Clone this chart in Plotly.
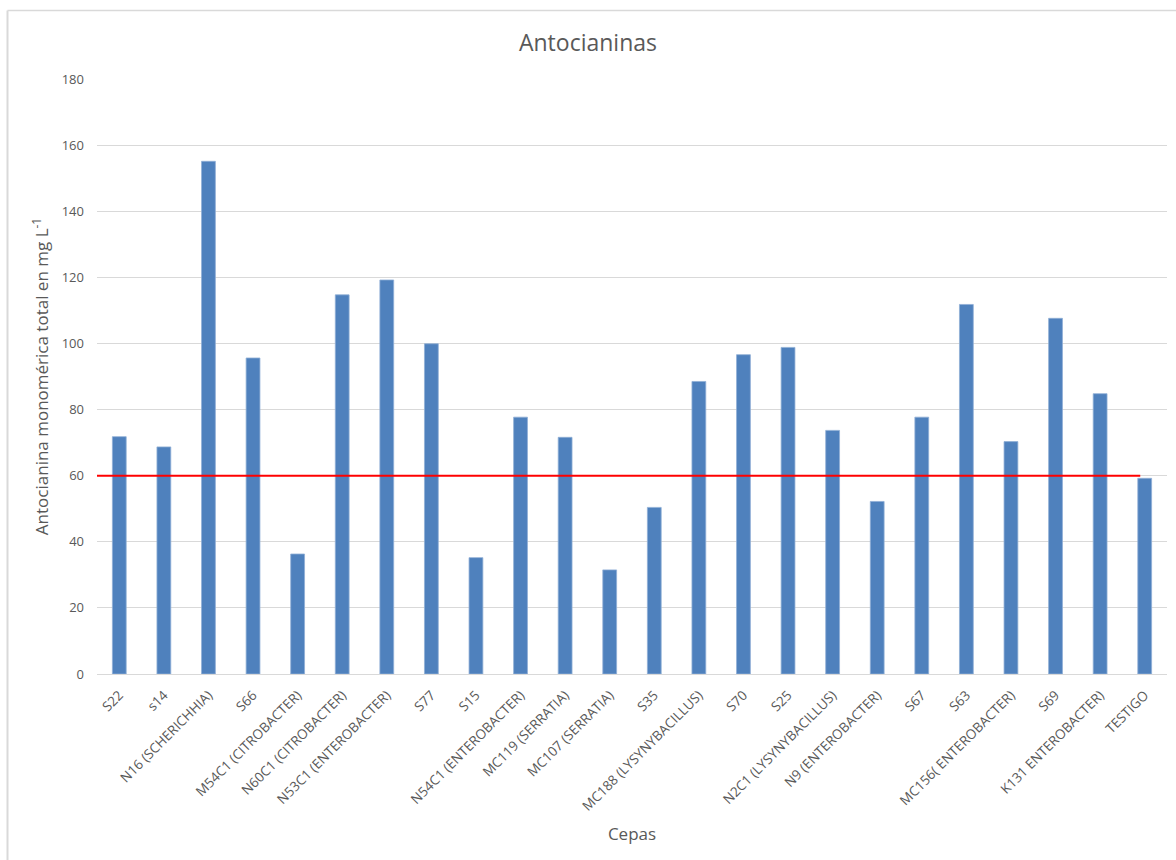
import plotly.graph_objects as go

# Strains (cepas) and total monomeric anthocyanin (mg/L)
cepas = [
    "S22", "s14", "N16 (SCHERICHHIA)", "S66", "M54C1 (CITROBACTER)",
    "N60C1 (CITROBACTER)", "N53C1 (ENTEROBACTER)", "S77", "S15",
    "N54C1 (ENTEROBACTER)", "MC119 (SERRATIA)", "MC107 (SERRATIA)", "S35",
    "MC188 (LYSYNYBACILLUS)", "S70", "S25", "N2C1 (LYSYNYBACILLUS)",
    "N9 (ENTEROBACTER)", "S67", "S63", "MC156( ENTEROBACTER)", "S69",
    "K131 ENTEROBACTER)", "TESTIGO",
]
antocianina = [
    71.8, 68.7, 155.1, 95.6, 36.3,
    114.7, 119.2, 99.9, 35.2,
    77.7, 71.6, 31.5, 50.4,
    88.5, 96.6, 98.8, 73.7,
    52.2, 77.7, 111.8, 70.3, 107.6,
    84.8, 59.2,
]
referencia = 60  # reference level drawn as a red line

y_ticks = [0, 20, 40, 60, 80, 100, 120, 140, 160, 180]

# plot-area geometry in pixels
W, H = 1176, 860
L, R, T, B = 97, 9, 79, 186
pw, ph = W - L - R, H - T - B

grey_text = "#595959"
font_family = "Open Sans, Calibri, Liberation Sans, sans-serif"

fig = go.Figure()
fig.add_trace(go.Bar(
    x=list(range(len(cepas))),
    y=antocianina,
    marker=dict(color="#4F81BD", line=dict(width=0.8, color="#8FAFD6")),
    width=0.31,
    hoverinfo="x+y",
))

# reference line at 60 mg/L
fig.add_shape(type="line", xref="x", yref="y",
              x0=-0.5, x1=len(cepas) - 1.1, y0=referencia, y1=referencia,
              line=dict(color="#FF0000", width=2))

# outer chart border (top and left edges)
fig.add_shape(type="line", xref="paper", yref="paper",
              x0=(7.5 - L) / pw, x1=(W + 5 - L) / pw,
              y0=(H - B - 10.5) / ph, y1=(H - B - 10.5) / ph,
              line=dict(color="#D9D9D9", width=1.5))
fig.add_shape(type="line", xref="paper", yref="paper",
              x0=(7.5 - L) / pw, x1=(7.5 - L) / pw,
              y0=(H - B - 10.5) / ph, y1=-(B + 5) / ph,
              line=dict(color="#D9D9D9", width=2))

fig.update_layout(
    width=W, height=H,
    margin=dict(l=L, r=R, t=T, b=B, pad=0),
    paper_bgcolor="white", plot_bgcolor="white",
    showlegend=False,
    font=dict(family=font_family, color=grey_text, size=13),
    title=dict(text="Antocianinas", x=0.5, xanchor="center",
               y=1 - 43 / H, yanchor="middle",
               font=dict(size=23, color=grey_text, family=font_family)),
    xaxis=dict(
        tickmode="array",
        tickvals=list(range(len(cepas))),
        ticktext=cepas,
        tickangle=-45,
        range=[-0.5, len(cepas) - 0.5],
        showgrid=False,
        showline=True, linecolor="#D9D9D9", linewidth=1,
        ticks="",
        ticklabelstandoff=7,
        tickfont=dict(size=13.5, color=grey_text),
        title=dict(text="Cepas", font=dict(size=17, color=grey_text), standoff=14),
    ),
    yaxis=dict(
        range=[0, 180],
        tickmode="array", tickvals=y_ticks,
        showgrid=True, gridcolor="#D9D9D9", gridwidth=1,
        zeroline=False,
        ticks="", ticklen=0,
        ticklabelstandoff=12,
        tickfont=dict(size=13, color=grey_text),
        title=dict(text="Antocianina monomérica total en mg L<sup>-1</sup>",
                   font=dict(size=17, color=grey_text), standoff=8),
    ),
)

fig.write_html("out.html")
